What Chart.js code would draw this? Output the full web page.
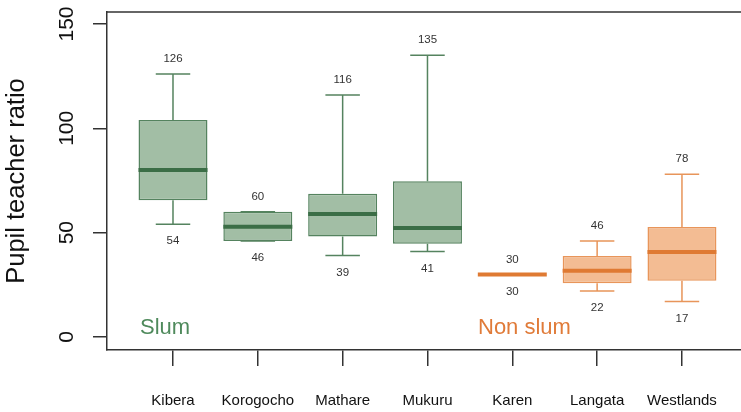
<!DOCTYPE html>
<html>
<head>
<meta charset="utf-8">
<script src="https://cdn.jsdelivr.net/npm/chart.js@4.4.1/dist/chart.umd.min.js"></script>
<style>
  html, body { margin: 0; padding: 0; background: #fff; }
  #wrap { width: 741px; height: 412px; }
</style>
</head>
<body>
<div id="wrap"><canvas id="c" width="741" height="412"></canvas></div>
<script>
// Pupil teacher ratio per area
const areas = ["Kibera", "Korogocho", "Mathare", "Mukuru", "Karen", "Langata", "Westlands"];
const groups = ["slum", "slum", "slum", "slum", "non", "non", "non"];
const mins = [54, 46, 39, 41, 30, 22, 17];
const q1s = [65.5, 46, 48.2, 44.7, 30, 25.7, 27];
const medians = [80, 52.8, 58.9, 52.2, 30, 31.8, 40.7];
const q3s = [104, 60, 68.7, 74.6, 30, 38.8, 52.7];
const maxs = [126, 60, 116, 135, 30, 46, 78];
const yTicks = [0, 50, 100, 150];

const COLORS = {
  slum: { fill: "#a2bea5", border: "#55835f", median: "#3b6e46", text: "#4f8a5c" },
  non: { fill: "#f3bc93", border: "#e8955a", median: "#df7a33", text: "#e07b39" }
};

const FONT = "'Liberation Sans', Arial, Helvetica, sans-serif";

// whiskers, medians, value labels and group names
const boxExtras = {
  id: "boxExtras",
  afterDatasetsDraw(chart) {
    const { ctx, chartArea } = chart;
    const x = chart.scales.x;
    const y = chart.scales.y;
    const meta = chart.getDatasetMeta(0);
    ctx.save();

    // top frame line
    ctx.strokeStyle = "#333";
    ctx.lineWidth = 1.5;
    ctx.beginPath();
    ctx.moveTo(chartArea.left, chartArea.top);
    ctx.lineTo(chartArea.right, chartArea.top);
    ctx.stroke();

    areas.forEach((name, i) => {
      const c = COLORS[groups[i]];
      const cx = x.getPixelForValue(i + 1);
      const half = meta.data[i].width / 2;
      const cap = half / 2;

      ctx.strokeStyle = c.border;
      ctx.lineWidth = 1.5;
      ctx.beginPath();
      ctx.moveTo(cx, y.getPixelForValue(q3s[i]));
      ctx.lineTo(cx, y.getPixelForValue(maxs[i]));
      ctx.moveTo(cx - cap, y.getPixelForValue(maxs[i]));
      ctx.lineTo(cx + cap, y.getPixelForValue(maxs[i]));
      ctx.moveTo(cx, y.getPixelForValue(q1s[i]));
      ctx.lineTo(cx, y.getPixelForValue(mins[i]));
      ctx.moveTo(cx - cap, y.getPixelForValue(mins[i]));
      ctx.lineTo(cx + cap, y.getPixelForValue(mins[i]));
      ctx.stroke();

      ctx.strokeStyle = c.median;
      ctx.lineWidth = 4;
      ctx.beginPath();
      ctx.moveTo(cx - half, y.getPixelForValue(medians[i]));
      ctx.lineTo(cx + half, y.getPixelForValue(medians[i]));
      ctx.stroke();

      ctx.fillStyle = "#333";
      ctx.font = "11.5px " + FONT;
      ctx.textAlign = "center";
      ctx.textBaseline = "middle";
      ctx.fillText(String(maxs[i]), cx, y.getPixelForValue(maxs[i]) - 15);
      ctx.fillText(String(mins[i]), cx, y.getPixelForValue(mins[i]) + 17);
    });

    ctx.font = "22px " + FONT;
    ctx.textAlign = "left";
    ctx.textBaseline = "alphabetic";
    ctx.fillStyle = COLORS.slum.text;
    ctx.fillText("Slum", 140, 334);
    ctx.fillStyle = COLORS.non.text;
    ctx.fillText("Non slum", 478, 334);
    ctx.restore();
  }
};

new Chart(document.getElementById("c").getContext("2d"), {
  type: "bar",
  data: {
    datasets: [{
      data: areas.map((a, i) => ({ x: i + 1, y: [q1s[i], q3s[i]] })),
      backgroundColor: groups.map((g) => COLORS[g].fill),
      borderColor: groups.map((g) => COLORS[g].border),
      borderWidth: 1.5,
      borderSkipped: false,
      barPercentage: 0.813,
      categoryPercentage: 1
    }]
  },
  options: {
    responsive: false,
    animation: false,
    layout: { padding: { top: 12, left: 0, right: 0, bottom: 0 } },
    plugins: { legend: { display: false }, tooltip: { enabled: false } },
    scales: {
      x: {
        type: "linear",
        min: 0.222,
        max: 7.696,
        offset: false,
        afterBuildTicks: (s) => { s.ticks = areas.map((a, i) => ({ value: i + 1 })); },
        afterFit: (s) => { s.height = 62; s.paddingLeft = 0; s.paddingRight = 0; },
        grid: { offset: false, drawOnChartArea: false, drawTicks: true, tickLength: 16, color: "#333", lineWidth: 1.5 },
        border: { display: true, color: "#333", width: 1.5 },
        ticks: {
          callback: (v) => areas[v - 1],
          color: "#111",
          font: { family: FONT, size: 15 },
          padding: 26,
          maxRotation: 0,
          autoSkip: false
        }
      },
      y: {
        min: -6.23,
        max: 155.75,
        afterBuildTicks: (s) => { s.ticks = yTicks.map((v) => ({ value: v })); },
        afterFit: (s) => { s.width = 107; s.paddingTop = 0; s.paddingBottom = 0; },
        grid: { drawOnChartArea: false, drawTicks: true, tickLength: 14, color: "#333", lineWidth: 1.5 },
        border: { display: true, color: "#333", width: 1.5 },
        ticks: {
          color: "#111",
          font: { family: FONT, size: 21 },
          minRotation: 90,
          maxRotation: 90,
          crossAlign: "center",
          padding: 8
        },
        title: {
          display: true,
          text: "Pupil teacher ratio",
          color: "#111",
          font: { family: FONT, size: 25.5 },
          padding: { top: 2, bottom: 0 }
        }
      }
    }
  },
  plugins: [boxExtras]
});
</script>
</body>
</html>
